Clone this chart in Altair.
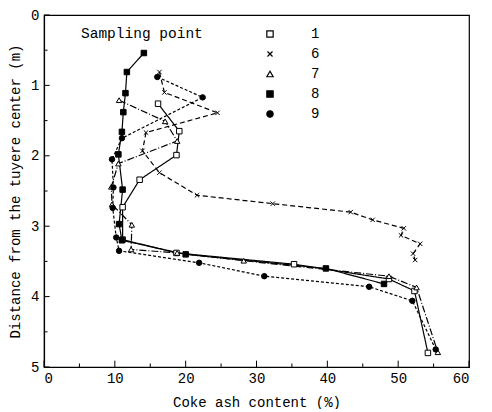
import altair as alt
import pandas as pd

# ---- data ----
series_names = ["1", "6", "7", "8", "9"]

s1_x = [16.1, 19.1, 18.7, 13.5, 11.1, 11.1, 18.7, 35.3, 48.7, 52.3, 54.2]
s1_y = [1.26, 1.65, 1.99, 2.34, 2.73, 3.19, 3.38, 3.54, 3.75, 3.92, 4.80]

s6_x = [16.3, 17.0, 24.5, 14.4, 13.9, 16.3, 21.6, 32.3, 43.3, 46.4, 50.8, 50.4, 53.1, 52.1, 52.4]
s6_y = [0.81, 1.10, 1.39, 1.67, 1.93, 2.24, 2.56, 2.68, 2.80, 2.91, 3.03, 3.13, 3.25, 3.39, 3.48]

s7_x = [10.6, 17.1, 18.8, 10.5, 9.5, 9.6, 12.4, 12.3, 18.8, 28.2, 48.7, 52.6, 55.6]
s7_y = [1.21, 1.51, 1.79, 2.11, 2.44, 2.69, 2.98, 3.33, 3.38, 3.49, 3.71, 3.87, 4.79]

s8_x = [14.1, 11.7, 11.5, 11.2, 11.0, 10.5, 11.1, 10.6, 11.0, 20.0, 39.8, 48.0]
s8_y = [0.54, 0.81, 1.11, 1.38, 1.66, 1.98, 2.48, 2.97, 3.20, 3.40, 3.60, 3.82]

s9_x = [16.0, 22.4, 11.0, 9.6, 9.8, 9.7, 10.2, 10.6, 21.9, 31.1, 45.9, 52.0, 55.3]
s9_y = [0.88, 1.17, 1.75, 2.05, 2.45, 2.74, 3.16, 3.35, 3.52, 3.71, 3.86, 4.06, 4.75]

x_major = [0, 10, 20, 30, 40, 50, 60]
x_minor = [5, 15, 25, 35, 45, 55]
y_major = [0, 1, 2, 3, 4, 5]
y_minor = [0.5, 1.5, 2.5, 3.5, 4.5]

# ---- build table ----
rows = []
for name, xs, ys in zip(series_names,
                        [s1_x, s6_x, s7_x, s8_x, s9_x],
                        [s1_y, s6_y, s7_y, s8_y, s9_y]):
    for i, (xv, yv) in enumerate(zip(xs, ys)):
        rows.append({"series": name, "ash": xv, "dist": yv, "idx": i})
df = pd.DataFrame(rows)

FONT = "Liberation Mono"
X_PATH = "M-0.8,-0.8L0.8,0.8M-0.8,0.8L0.8,-0.8"

xscale = alt.Scale(domain=[0, 60], nice=False, zero=False)
yscale = alt.Scale(domain=[0, 5], nice=False, zero=False, reverse=True)

xaxis = alt.Axis(values=x_major, format="d", ticks=False, labelPadding=4,
                 title="Coke ash content (%)", titlePadding=10, grid=False,
                 domainColor="black", labelColor="black", titleColor="black")
yaxis = alt.Axis(values=y_major, format="d", ticks=False, labelPadding=5,
                 title="Distance from the tuyere center (m)", titlePadding=8, grid=False,
                 domainColor="black", labelColor="black", titleColor="black")

legend = alt.Legend(title="Sampling point", orient="none", legendX=37, legendY=12,
                    titleOrient="left", titleAnchor="start", titlePadding=60,
                    titleFont=FONT, titleFontSize=14.5, titleFontWeight="normal",
                    titleColor="black", labelFont=FONT, labelFontSize=14, labelColor="black",
                    rowPadding=6, symbolSize=40, symbolStrokeColor="black",
                    symbolStrokeWidth=1.2, labelOffset=34)

dash_styles = {"1": [1, 0], "6": [5, 3], "7": [7, 2, 1, 2], "8": [1, 0], "9": [3, 2]}
sshape = alt.Scale(domain=series_names, range=["square", X_PATH, "triangle-up", "square", "circle"])
sfill = alt.Scale(domain=series_names, range=["white", "black", "white", "black", "black"])
sstroke = alt.Scale(domain=series_names, range=["black"] * 5)

base = alt.Chart(df)

line_layers = []
for k, name in enumerate(series_names):
    enc = dict(x=alt.X("ash:Q", scale=xscale), y=alt.Y("dist:Q", scale=yscale), order="idx:Q")
    if k == 0:
        enc["x"] = alt.X("ash:Q", scale=xscale, axis=xaxis)
        enc["y"] = alt.Y("dist:Q", scale=yscale, axis=yaxis)
    line_layers.append(
        base.transform_filter(alt.datum.series == name)
        .mark_line(color="black", strokeWidth=1.2, strokeDash=dash_styles[name])
        .encode(**enc)
    )

points = base.mark_point(strokeWidth=1, opacity=1, filled=False, size=30).encode(
    x=alt.X("ash:Q", scale=xscale),
    y=alt.Y("dist:Q", scale=yscale),
    shape=alt.Shape("series:N", scale=sshape, legend=legend),
    fill=alt.Fill("series:N", scale=sfill, legend=legend),
    stroke=alt.Stroke("series:N", scale=sstroke, legend=legend),
)

# inward ticks
xt_major = alt.Chart(pd.DataFrame({"v": x_major, "y0": 5.0, "y1": 4.91})).mark_rule(color="black").encode(
    x=alt.X("v:Q", scale=xscale), y=alt.Y("y0:Q", scale=yscale), y2="y1:Q")
xt_minor = alt.Chart(pd.DataFrame({"v": x_minor, "y0": 5.0, "y1": 4.95})).mark_rule(color="black").encode(
    x=alt.X("v:Q", scale=xscale), y=alt.Y("y0:Q", scale=yscale), y2="y1:Q")
yt_major = alt.Chart(pd.DataFrame({"v": y_major, "x0": 0.0, "x1": 0.8})).mark_rule(color="black").encode(
    y=alt.Y("v:Q", scale=yscale), x=alt.X("x0:Q", scale=xscale), x2="x1:Q")
yt_minor = alt.Chart(pd.DataFrame({"v": y_minor, "x0": 0.0, "x1": 0.5})).mark_rule(color="black").encode(
    y=alt.Y("v:Q", scale=yscale), x=alt.X("x0:Q", scale=xscale), x2="x1:Q")

chart = alt.layer(*line_layers, points, xt_major, xt_minor, yt_major, yt_minor).properties(
    width=425, height=352, background="white",
    padding={"left": 0, "top": 0, "right": 2, "bottom": 0}
).configure_view(
    stroke="black", strokeWidth=1.2
).configure_axis(
    labelFont=FONT, titleFont=FONT, labelFontSize=14, titleFontSize=14,
    titleFontWeight="normal", domainWidth=1.2
)

chart.save("out.html", embed_options={"renderer": "svg", "actions": False})
